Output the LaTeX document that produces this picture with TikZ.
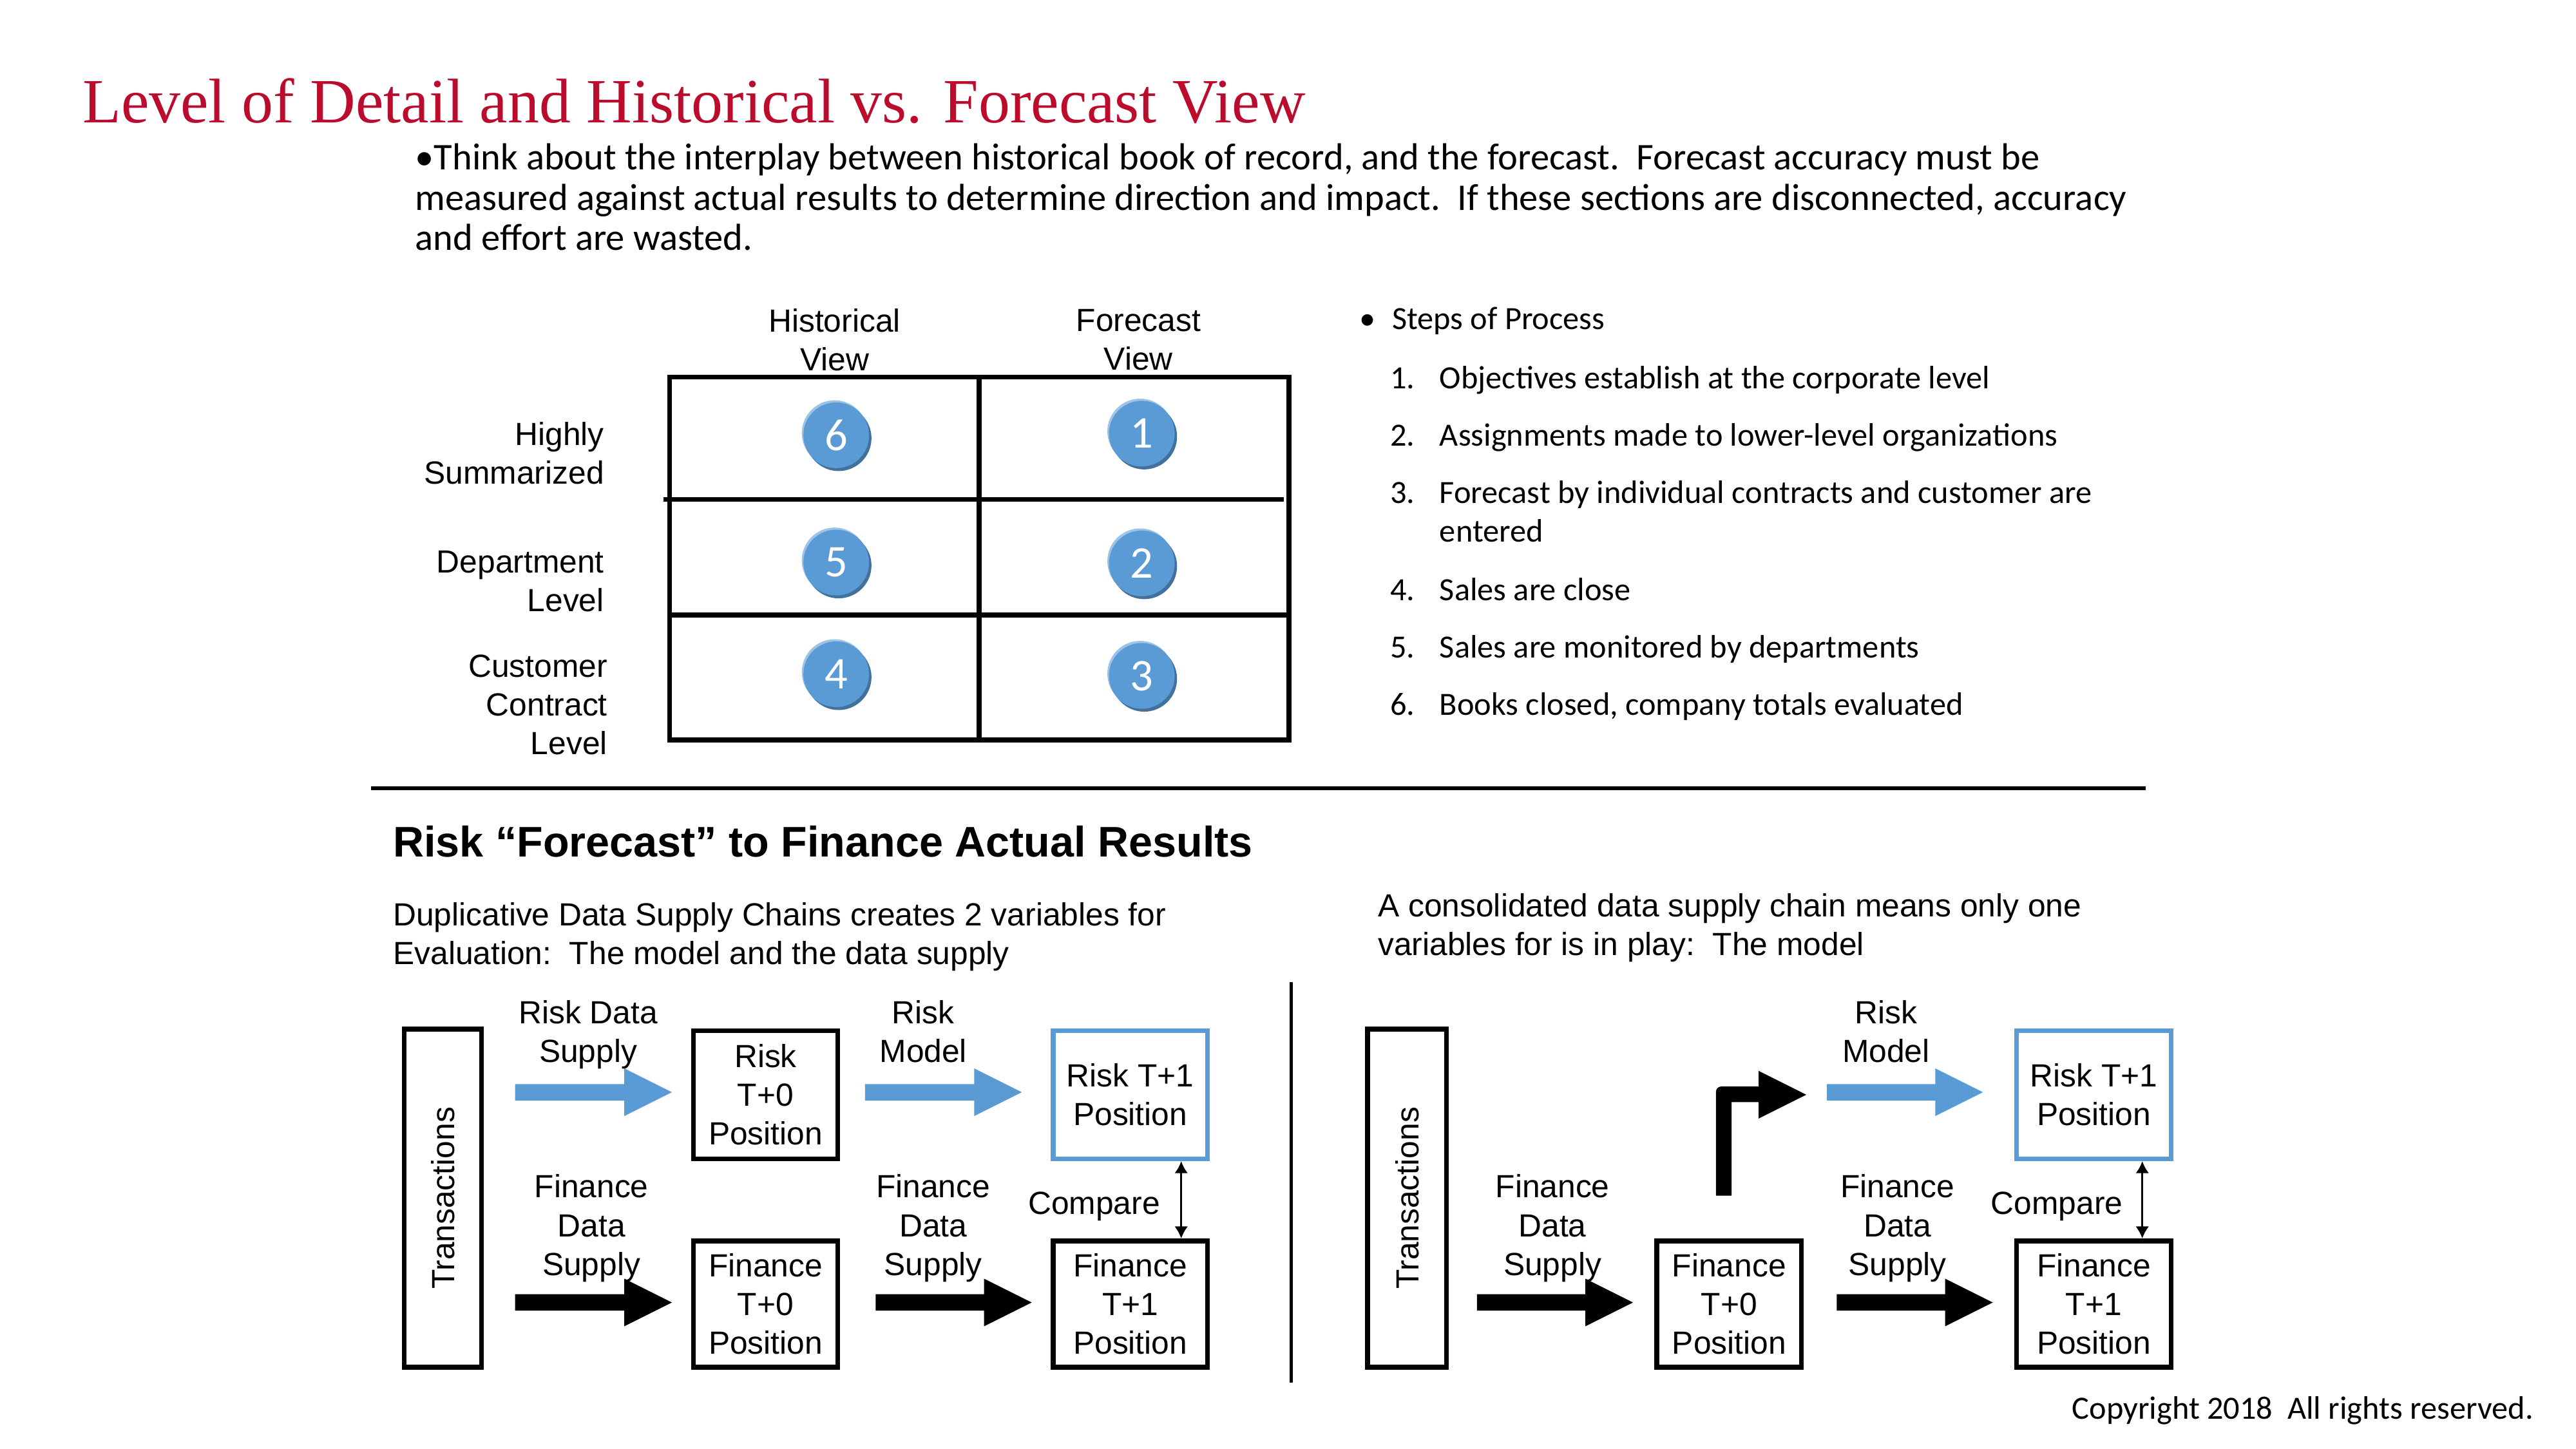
\documentclass[tikz,border=0pt]{standalone}
\usepackage{fontspec}
\setmainfont{Carlito}
\newfontfamily\arial{Liberation Sans}
\newfontfamily\titlefont{Liberation Serif}
\usetikzlibrary{arrows.meta,shadows}
\definecolor{cblue}{HTML}{5B9BD5}
\definecolor{cdark}{HTML}{41719C}
\definecolor{clight}{HTML}{9DC3E6}
\definecolor{titlered}{RGB}{188,12,45}
\def\dpx{0.6154pt}
\newcommand\blockarr[5]{% x1, xhead, x2, y, colour
  \fill[#5] (#1,#4-5) -- (#2,#4-5) -- (#2,#4-14.5) -- (#3,#4) -- (#2,#4+14.5) -- (#2,#4+5) -- (#1,#4+5) -- cycle;}
\begin{document}
\begin{tikzpicture}[x=0.6154pt,y=-0.6154pt,
  ar12/.style={font=\arial\fontsize{12}{14.5}\selectfont, align=center, inner sep=0},
  box/.style={draw, line width=1.8pt, inner sep=0, align=center, font=\arial\fontsize{12}{14.5}\selectfont},
  bluebox/.style={box, draw=cblue},
  sz/.style 2 args={minimum width=#1*\dpx, minimum height=#2*\dpx},
  num/.style={circle, fill=cblue, text=white, inner sep=0, minimum size=40*\dpx,
    font=\fontsize{17}{17}\selectfont,
    general shadow={fill=clight, shadow xshift=-0.6pt, shadow yshift=0.8pt},
    general shadow={fill=cdark, shadow xshift=0.9pt, shadow yshift=-1.1pt}},
  gridline/.style={line width=1.8pt},
  cal12/.style={font=\fontsize{12.15}{14.5}\selectfont, inner sep=0, anchor=base west},
  para/.style={font=\fontsize{14.12}{15}\selectfont, inner sep=0, anchor=base west},
  arbase/.style={font=\arial\fontsize{12}{14.5}\selectfont, inner sep=0, anchor=base west},
  dbl/.style={{Latex[length=4.5pt,width=5pt]}-{Latex[length=4.5pt,width=5pt]}, line width=0.7pt}
]
\useasboundingbox (0,0) rectangle (1568,882);

% title and intro
\node[inner sep=0, anchor=base west, font=\titlefont\fontsize{23.6}{28}\selectfont, text=titlered] (title) at (50,74.5) {Level of Detail and Historical vs. Forecast View};
\node[para] (p1) at (252.5,103.5) {•Think about the interplay between historical book of record, and the forecast.\ \ Forecast accuracy must be};
\node[para] (p2) at (252.5,128) {measured against actual results to determine direction and impact.\ \ If these sections are disconnected, accuracy};
\node[para] (p3) at (252.5,152.5) {and effort are wasted.};

% table
\node[draw, line width=1.8pt, sz={377}{221}, inner sep=0] (tbl) at (596,340) {};
\draw[gridline] (tbl.north) -- (tbl.south);
\draw[gridline] (404,304) -- (781.5,304);
\draw[gridline] (tbl.west |- 0,374.5) -- (tbl.east |- 0,374.5);
\node[ar12] (hh) at (508,207) {Historical\\View};
\node[ar12] (hf) at (693,207) {Forecast\\View};
\node[ar12, align=right, anchor=east] (r1) at (368,276) {Highly\\Summarized};
\node[ar12, align=right, anchor=east] (r2) at (368,354) {Department\\Level};
\node[ar12, align=right, anchor=east] (r3) at (370,429) {Customer\\Contract\\Level};
\node[num] (c6) at (509,265) {6};
\node[num] (c1) at (695,264) {1};
\node[num] (c5) at (509,342.5) {5};
\node[num] (c2) at (695,343) {2};
\node[num] (c4) at (509,410.5) {4};
\node[num] (c3) at (695,411.5) {3};

% steps
\node[cal12] (sb) at (827,200.5) {•};
\node[cal12] (st) at (847,200.5) {Steps of Process};
\node[cal12] (n1) at (846,236.5) {1.};
\node[cal12] (t1) at (876,236.5) {Objectives establish at the corporate level};
\node[cal12] (n2) at (846,271.5) {2.};
\node[cal12] (t2) at (876,271.5) {Assignments made to lower-level organizations};
\node[cal12] (n3) at (846,306.5) {3.};
\node[cal12] (t3) at (876,306.5) {Forecast by individual contracts and customer are};
\node[cal12] (t3b) at (876,330) {entered};
\node[cal12] (n4) at (846,365.5) {4.};
\node[cal12] (t4) at (876,365.5) {Sales are close};
\node[cal12] (n5) at (846,400.5) {5.};
\node[cal12] (t5) at (876,400.5) {Sales are monitored by departments};
\node[cal12] (n6) at (846,435.5) {6.};
\node[cal12] (t6) at (876,435.5) {Books closed, company totals evaluated};

% rule
\draw[line width=1.4pt] (226,480) -- (1306,480);

% bottom headings
\node[inner sep=0, anchor=base west, font=\arial\bfseries\fontsize{16.05}{19}\selectfont] (h2) at (239,521.5) {Risk “Forecast” to Finance Actual Results};
\node[arbase] (d1) at (239,563.5) {Duplicative Data Supply Chains creates 2 variables for};
\node[arbase] (d2) at (239,587) {Evaluation:\ \ The model and the data supply};
\node[arbase] (e1) at (838.5,558) {A consolidated data supply chain means only one};
\node[arbase] (e2) at (838.5,581.5) {variables for is in play:\ \ The model};

% divider
\draw[line width=1.2pt] (786,598) -- (786,842);

% left diagram
\node[box, sz={206}{47}, rotate=90] (tl) at (269.5,729.5) {Transactions};
\node[box, sz={88}{78}] (rt0) at (466,666.5) {Risk\\T+0\\Position};
\node[box, sz={88}{77}] (ft0) at (466,794) {Finance\\T+0\\Position};
\node[bluebox, sz={94}{78}] (rt1) at (688,666.5) {Risk T+1\\Position};
\node[box, sz={94}{77}] (ft1) at (688,794) {Finance\\T+1\\Position};
\blockarr{313.5}{380}{409}{665}{cblue}
\blockarr{313.5}{380}{409}{793}{black}
\blockarr{526.5}{593}{622}{665}{cblue}
\blockarr{533}{599}{628}{793}{black}
\node[ar12] (l1) at (358,630) {Risk Data\\Supply};
\node[ar12] (l2) at (562,628) {Risk\\Model};
\node[ar12] (l3) at (360,747.8) {Finance\\Data\\Supply};
\node[ar12] (l4) at (568,747.8) {Finance\\Data\\Supply};
\node[ar12] (l5) at (666,734.5) {Compare};
\coordinate (dax) at (719,700);
\draw[dbl] (rt1.south -| dax) -- (ft1.north -| dax);

% right diagram
\node[box, sz={206}{48}, rotate=90] (tr) at (856.5,729.5) {Transactions};
\node[box, sz={88}{77}] (ft0r) at (1052.5,794) {Finance\\T+0\\Position};
\node[bluebox, sz={94}{78}] (rt1r) at (1274.5,666.5) {Risk T+1\\Position};
\node[box, sz={94}{77}] (ft1r) at (1274.5,794) {Finance\\T+1\\Position};
\blockarr{899}{965}{994}{793}{black}
\blockarr{1118}{1184}{1213}{793}{black}
\blockarr{1112}{1178}{1207}{665}{cblue}
\fill (1044.5,728) -- (1044.5,680) [rounded corners=2pt] -- (1044.5,661.5) -- (1062,661.5) [sharp corners] -- (1070.5,661.5) -- (1070.5,652) -- (1099.5,666.5) -- (1070.5,681) -- (1070.5,671) -- (1054,671) -- (1054,728) -- cycle;
\node[ar12] (m2) at (1148,628) {Risk\\Model};
\node[ar12] (m3) at (945,747.8) {Finance\\Data\\Supply};
\node[ar12] (m4) at (1155,747.8) {Finance\\Data\\Supply};
\node[ar12] (m5) at (1252,734.5) {Compare};
\coordinate (dbx) at (1304,700);
\draw[dbl] (rt1r.south -| dbx) -- (ft1r.north -| dbx);

% copyright
\node[cal12] (copy) at (1261,864) {Copyright 2018\ \ All rights reserved.};
\end{tikzpicture}
\end{document}
